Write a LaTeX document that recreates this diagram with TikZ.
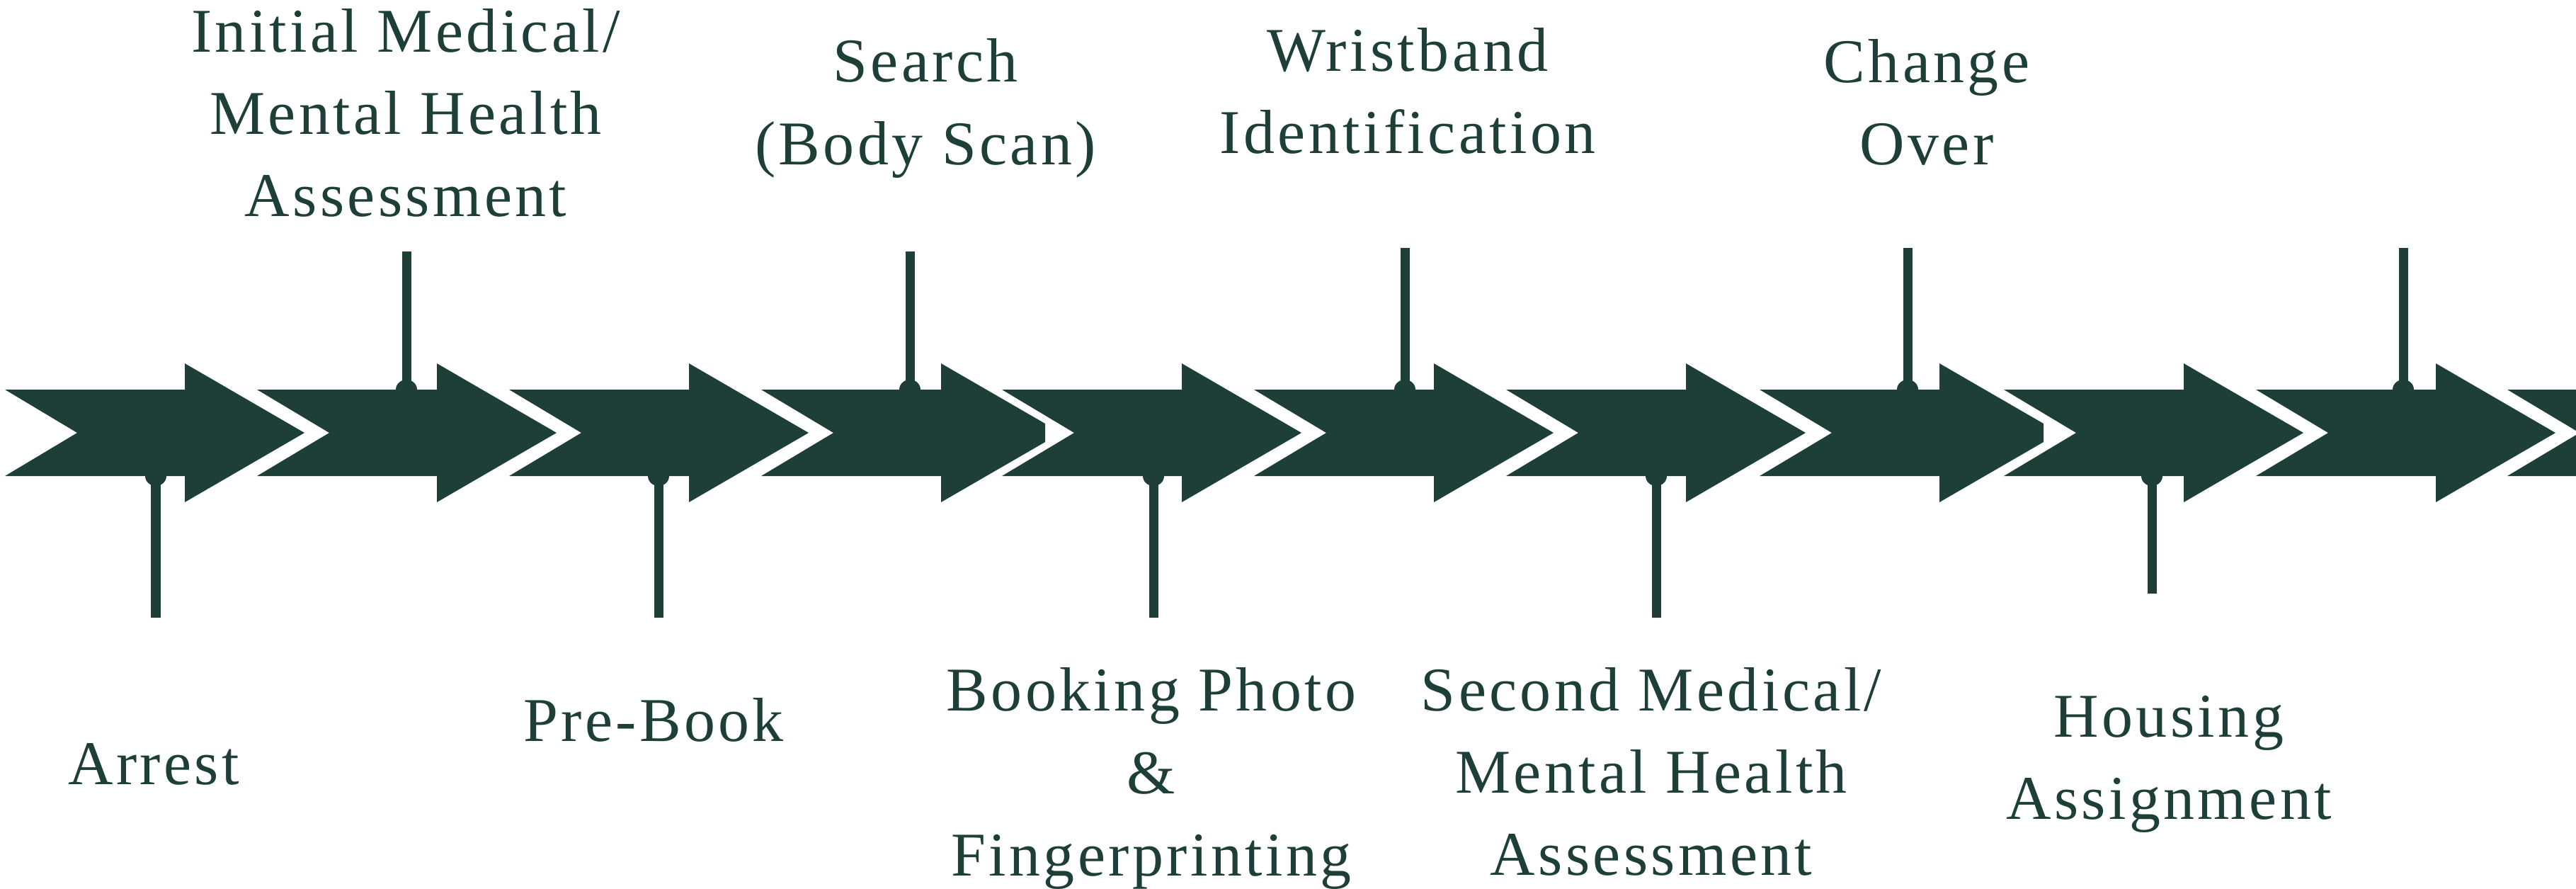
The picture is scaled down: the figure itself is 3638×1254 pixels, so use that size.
\documentclass[tikz,border=0pt]{standalone}
\usepackage{fontspec}
\setmainfont{Liberation Serif}[LetterSpace=5]
\definecolor{jailgreen}{HTML}{1D3F37}

\tikzset{
  stage/.pic={\fill[jailgreen] (0,-61) -- (254,-61) -- (254,-98) -- (423,0) -- (254,98) -- (254,61) -- (0,61) -- (102,0) -- cycle;},
  stagecut/.pic={\fill[jailgreen] (0,-61) -- (254,-61) -- (254,-98) -- (401,-13) -- (401,13) -- (254,98) -- (254,61) -- (0,61) -- (102,0) -- cycle;},
  stem/.style={draw=jailgreen,line width=0.13cm},
  lbl/.style={text=jailgreen,align=center,inner sep=0pt,font=\fontsize{25}{33}\selectfont}
}

\begin{document}
\begin{tikzpicture}[x=0.01cm,y=-0.01cm]
    \useasboundingbox (0,0) rectangle (3638,1254);

    % the row of arrows
    \pic at (7,611) {stage};
    \pic at (363,611) {stage};
    \pic at (719,611) {stage};
    \pic at (1075,611) {stagecut};
    \pic at (1415,611) {stage};
    \pic at (1771,611) {stage};
    \pic at (2127,611) {stage};
    \pic at (2485,611) {stagecut};
    \pic at (2830,611) {stage};
    \pic at (3186,611) {stage};
    \pic at (3541,611) {stage};

    % pins below the arrows
    \coordinate (b1) at (220,672);   \coordinate (e1) at (220,872);
    \coordinate (b3) at (930,672);   \coordinate (e3) at (930,872);
    \coordinate (b5) at (1629,672);  \coordinate (e5) at (1629,872);
    \coordinate (b7) at (2339,672);  \coordinate (e7) at (2339,872);
    \coordinate (b9) at (3039,672);  \coordinate (e9) at (3039,838);

    % pins above the arrows
    \coordinate (b2) at (574,550);   \coordinate (e2) at (574,355);
    \coordinate (b4) at (1285,550);  \coordinate (e4) at (1285,355);
    \coordinate (b6) at (1984,550);  \coordinate (e6) at (1984,350);
    \coordinate (b8) at (2694,550);  \coordinate (e8) at (2694,350);
    \coordinate (b10) at (3394,550); \coordinate (e10) at (3394,350);

    \path [stem] (b1) -- (e1);
    \path [stem] (b2) -- (e2);
    \path [stem] (b3) -- (e3);
    \path [stem] (b4) -- (e4);
    \path [stem] (b5) -- (e5);
    \path [stem] (b6) -- (e6);
    \path [stem] (b7) -- (e7);
    \path [stem] (b8) -- (e8);
    \path [stem] (b9) -- (e9);
    \path [stem] (b10) -- (e10);
    \fill[jailgreen] (b1) ellipse [x radius=15,y radius=14];
    \fill[jailgreen] (b2) ellipse [x radius=15,y radius=14];
    \fill[jailgreen] (b3) ellipse [x radius=15,y radius=14];
    \fill[jailgreen] (b4) ellipse [x radius=15,y radius=14];
    \fill[jailgreen] (b5) ellipse [x radius=15,y radius=14];
    \fill[jailgreen] (b6) ellipse [x radius=15,y radius=14];
    \fill[jailgreen] (b7) ellipse [x radius=15,y radius=14];
    \fill[jailgreen] (b8) ellipse [x radius=15,y radius=14];
    \fill[jailgreen] (b9) ellipse [x radius=15,y radius=14];
    \fill[jailgreen] (b10) ellipse [x radius=15,y radius=14];

    % labels
    \node[lbl] (initial) at (573,159) {Initial Medical/\\Mental Health\\Assessment};
    \node[lbl] (search) at (1307,153) {Search\\(Body Scan)};
    \node[lbl] (wrist) at (1988,128) {Wristband\\Identification};
    \node[lbl] (change) at (2721,144) {Change\\Over};
    \node[lbl] (arrest) at (217,1079) {Arrest};
    \node[lbl] (prebook) at (923,1016) {Pre-Book};
    \node[lbl] (photo) at (1626,1099) {Booking Photo\\\&\\Fingerprinting};
    \node[lbl] (second) at (2332,1089) {Second Medical/\\Mental Health\\Assessment};
    \node[lbl] (housing) at (3063,1079) {Housing\\Assignment};
\end{tikzpicture}
\end{document}
